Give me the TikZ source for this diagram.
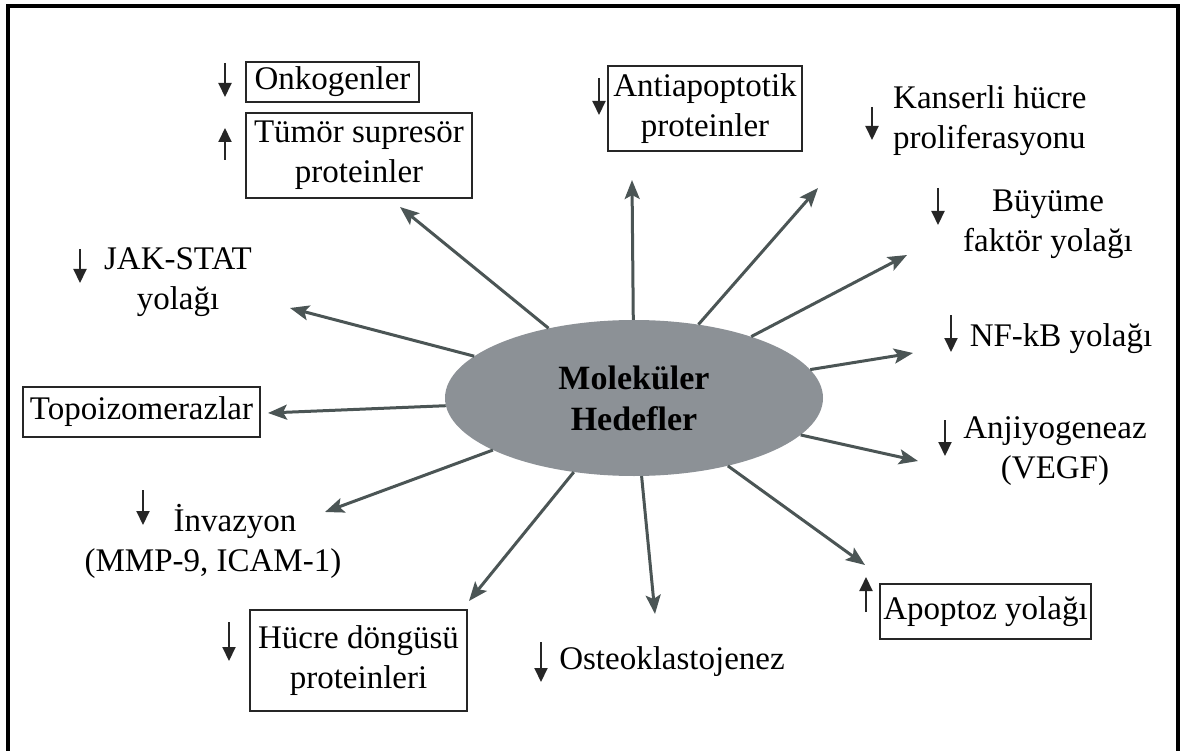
\documentclass[tikz,border=0pt]{standalone}
\usepackage{fontspec}
\setmainfont{Liberation Serif}
\usetikzlibrary{shapes.geometric,arrows.meta}

\definecolor{hubgray}{RGB}{140,145,150}
\definecolor{linkgray}{RGB}{75,85,85}

\begin{document}
\begin{tikzpicture}[
    x=1pt, y=-1pt,
    every node/.style={font=\fontsize{33}{40}\selectfont, align=center, inner sep=0pt},
    hub/.style={ellipse, fill=hubgray, minimum width=378pt, minimum height=156pt, font=\fontsize{34}{41}\selectfont\bfseries},
    target/.style={draw=black!85, line width=1.6pt},
    link/.style={draw=linkgray, line width=3pt, -{Stealth[length=19pt,width=15pt,inset=4pt]}},
    trend/.style={draw=black!85, line width=2pt, -{Triangle[length=14pt,width=13pt]}}
]
    \useasboundingbox (0,0) rectangle (1180,751);

    % Outer frame (open at the bottom)
    \draw[line width=4pt] (8,751) -- (8,6) -- (1178,6) -- (1178,751);

    % Central node
    \node[hub] (mol) at (634,398) {Moleküler\\Hedefler};

    % Boxed targets
    \node[target, minimum width=173pt, minimum height=40pt] (onko) at (332.5,82) {Onkogenler};
    \node[target, minimum width=226pt, minimum height=85pt] (tumor) at (359,155.5) {Tümör supresör\\proteinler};
    \node[target, minimum width=194pt, minimum height=85pt] (anti) at (705,108.5) {Antiapoptotik\\proteinler};
    \node[target, minimum width=237pt, minimum height=50pt] (topo) at (141.5,412) {Topoizomerazlar};
    \node[target, minimum width=217pt, minimum height=101pt] (hucre) at (358.5,660.5) {Hücre döngüsü\\proteinleri};
    \node[target, minimum width=211pt, minimum height=55pt] (apop) at (985.5,611.5) {Apoptoz yolağı};

    % Plain targets
    \node[anchor=west, align=left] (kanser) at (893,121) {Kanserli hücre\\proliferasyonu};
    \node (buyume) at (1048,224) {Büyüme\\faktör yolağı};
    \node (nfkb) at (1061,339) {NF-kB yolağı};
    \node (anjiyo) at (1055,451) {Anjiyogeneaz\\(VEGF)};
    \node (osteo) at (672,662) {Osteoklastojenez};
    \node (invaz) at (213,541) {\hspace*{44pt}İnvazyon\\(MMP-9, ICAM-1)};
    \node (jak) at (178,282) {JAK-STAT\\yolağı};

    % Arrow tips near each target
    \coordinate (t-tumor) at (400,207);
    \coordinate (t-anti) at (632,180);
    \coordinate (t-kanser) at (818,188);
    \coordinate (t-buyume) at (907,255);
    \coordinate (t-nfkb) at (913,353);
    \coordinate (t-anjiyo) at (918,461);
    \coordinate (t-apop) at (865,565);
    \coordinate (t-osteo) at (655,614);
    \coordinate (t-hucre) at (469,601);
    \coordinate (t-invaz) at (325,512);
    \coordinate (t-topo) at (268,413);
    \coordinate (t-jak) at (290,308);

    % Links from the centre
    \foreach \tip in {tumor,anti,kanser,buyume,nfkb,anjiyo,apop,osteo,hucre,invaz,topo,jak} {
        \draw[link] (mol) -- (t-\tip);
    }

    % Small up/down markers
    \foreach \x/\a/\b in {225/63/97, 599/78/115, 872/107/140, 938/188/225, 951/315/352,
                          80/249/283, 945/420/456, 143/490/525, 229/622/661, 541/642/682,
                          225/160/128, 866/612/577} {
        \draw[trend] (\x,\a) -- (\x,\b);
    }

\end{tikzpicture}
\end{document}
